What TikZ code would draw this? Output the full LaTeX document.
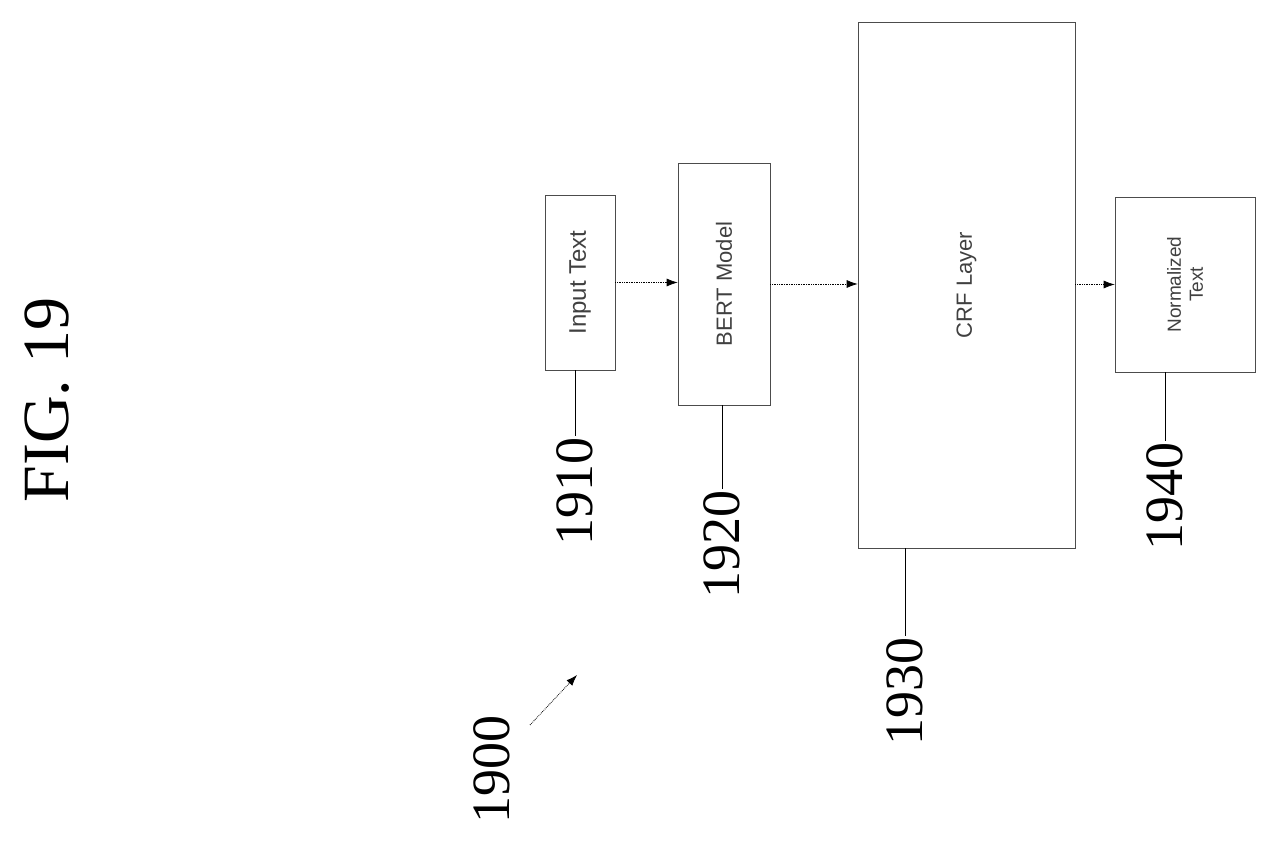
\documentclass[tikz,border=0pt]{standalone}
\usepackage{fontspec}
\setmainfont{Liberation Serif}
\setsansfont{Liberation Sans}
\usetikzlibrary{arrows.meta}
\tikzset{
	blk/.style={draw=black!70, line width=0.6pt, rotate=90, font=\sffamily\fontsize{22}{25}\selectfont, text=black!75, align=center},
	num/.style={rotate=90, font=\fontsize{54}{60}\selectfont, inner sep=2pt},
	flow/.style={densely dotted, line width=0.7pt, -{Latex[length=11pt,width=8pt]}}
}
\begin{document}
\begin{tikzpicture}[x=1pt,y=1pt]
	\useasboundingbox (0,0) rectangle (1278,852);

	\node[rotate=90, font=\fontsize{66}{70}\selectfont] (fig) at (47,452) {FIG. 19};

	\node[blk, minimum width=175, minimum height=70, font=\sffamily\fontsize{24}{27}\selectfont] (in) at (580,569.5) {Input Text};
	\node[blk, minimum width=242, minimum height=92] (bert) at (724,568) {BERT Model};
	\node[blk, minimum width=526, minimum height=217] (crf) at (966.5,567) {CRF Layer};
	\node[blk, minimum width=175, minimum height=140, font=\sffamily\fontsize{19}{22}\selectfont] (norm) at (1185,567.5) {Normalized\\Text};

	\draw[flow] (in.south) -- (bert.north |- in.south);
	\draw[flow] (bert.south) -- (crf.north |- bert.south);
	\draw[flow] (crf.south |- norm.north) -- (norm.north);

	% reference numerals
	\node[num] (n1910) at (575,360) {1910};
	\node[num] (n1920) at (722,307) {1920};
	\node[num] (n1930) at (905,160) {1930};
	\node[num] (n1940) at (1165,355) {1940};
	\node[num] (n1900) at (492,82) {1900};

	\draw[line width=0.8pt] (n1910.east) -- (n1910.east |- in.west);
	\draw[line width=0.8pt] (n1920.east) -- (n1920.east |- bert.west);
	\draw[line width=0.8pt] (n1930.east) -- (n1930.east |- crf.west);
	\draw[line width=0.8pt] (n1940.east) -- (n1940.east |- norm.west);

	\coordinate (tip) at (577,177);
	\draw[line width=0.8pt, densely dotted, -{Latex[length=11pt,width=8pt]}] (530,127) -- (tip);
\end{tikzpicture}
\end{document}
